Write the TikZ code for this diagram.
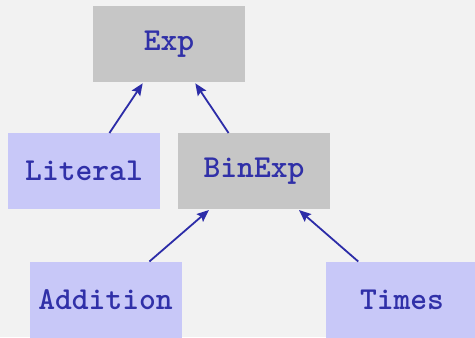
\documentclass[tikz,border=0pt]{standalone}
\usetikzlibrary{arrows.meta}
\definecolor{bgc}{HTML}{F2F2F2}
\definecolor{grayc}{HTML}{C6C6C6}
\definecolor{bluec}{HTML}{C8C8F8}
\definecolor{txtc}{HTML}{3030A8}
\definecolor{arrc}{HTML}{2C2CA8}
\begin{document}
\begin{tikzpicture}[x=0.5pt,y=-0.5pt,
  box/.style={minimum width=76pt,minimum height=38pt,inner sep=0pt,outer sep=0pt,
    text=txtc,font=\fontsize{16}{20}\selectfont\ttfamily\bfseries},
  abstractbox/.style={box,fill=grayc},
  concretebox/.style={box,fill=bluec},
  inh/.style={draw=arrc,line width=0.9pt,-{Stealth[length=6pt,width=5pt,inset=1pt]},shorten >=0.8pt}]
\fill[bgc] (0,0) rectangle (475,337);
\useasboundingbox (0,0) rectangle (475,337);
\node[abstractbox] (exp) at (169,44) {Exp};
\node[concretebox] (lit) at (84,171) {Literal};
\node[abstractbox] (bin) at (254,171) {BinExp};
\node[concretebox] (add) at (105.5,299.5) {Addition};
\node[concretebox] (times) at (402,299.5) {Times};
\draw[inh] (lit) -- (exp);
\draw[inh] (bin) -- (exp);
\draw[inh] (add) -- (bin);
\draw[inh] (times) -- (bin);
\end{tikzpicture}
\end{document}
